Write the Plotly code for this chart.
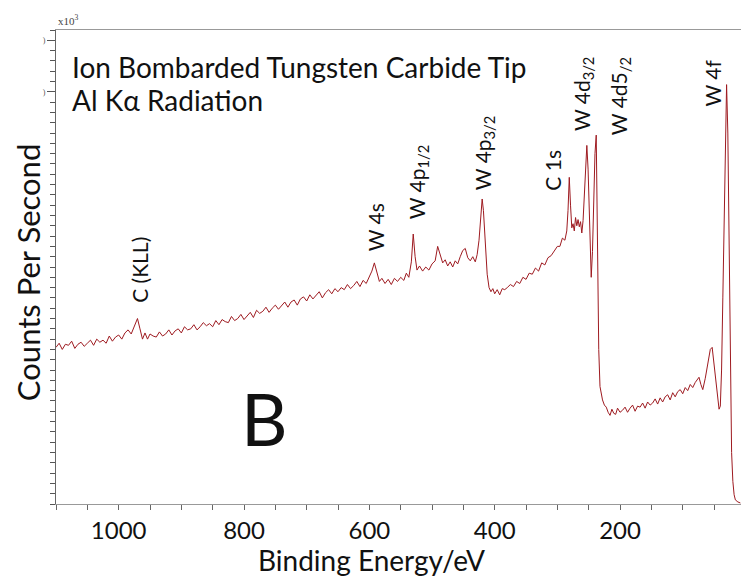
import plotly.graph_objects as go

# Binding energy (eV) and counts per second (x10^3)
energy = [1100, 1095, 1090, 1085, 1080, 1075, 1070, 1065, 1060, 1055, 1050, 1045, 1040, 1035, 1030,
          1025, 1020, 1015, 1010, 1005, 1000, 995, 990, 985, 980, 975, 970, 966, 962, 958, 954, 950,
          945, 940, 935, 930, 925, 920, 915, 910, 905, 900, 895, 890, 885, 880, 875, 870, 865, 860,
          855, 850, 845, 840, 835, 830, 825, 820, 815, 810, 805, 800, 795, 790, 785, 780, 775, 770,
          765, 760, 755, 750, 745, 740, 735, 730, 725, 720, 715, 710, 705, 700, 695, 690, 685, 680,
          675, 670, 665, 660, 655, 650, 645, 640, 635, 630, 625, 620, 615, 610, 605, 600, 596, 592,
          588, 584, 580, 575, 570, 565, 560, 555, 550, 545, 541, 537, 533, 530, 527, 524, 520, 515,
          510, 505, 500, 495, 491, 487, 483, 479, 475, 471, 467, 463, 459, 455, 451, 447, 443, 439,
          435, 431, 428, 425, 422, 420, 418, 415, 412, 409, 406, 403, 400, 396, 392, 388, 384, 380,
          375, 370, 365, 360, 355, 350, 345, 340, 335, 330, 325, 320, 315, 310, 305, 300, 296, 292,
          288, 285, 283, 281, 279, 277, 275, 273, 271, 269, 267, 265, 263, 261, 259, 257, 255, 253,
          251, 249, 247, 246, 244, 242, 240, 238, 237, 236, 234, 232, 230, 228, 225, 222, 219, 216,
          213, 210, 207, 204, 200, 196, 192, 188, 184, 180, 176, 172, 168, 164, 160, 156, 152, 148,
          144, 140, 136, 132, 128, 124, 120, 116, 112, 108, 104, 100, 96, 92, 88, 84, 80, 77, 74,
          71, 68, 64, 60, 56, 53, 50, 47, 44, 42, 40, 38, 36, 34, 32, 30, 28, 26, 24, 22, 20, 18,
          16, 12, 8]
counts = [15.2, 15.6, 15.0, 15.5, 15.4, 15.8, 15.1, 15.5, 15.7, 15.3, 15.6, 15.9, 15.4, 16.0, 15.7,
          15.9, 15.6, 16.3, 15.8, 16.2, 16.4, 16.0, 16.6, 16.9,
          16.5, 17.3, 18.0, 17.0, 16.0, 16.6, 16.0,
          16.5, 16.3, 16.2, 16.7, 16.3, 16.5, 16.9, 16.4, 16.8, 17.0,
          16.6, 17.2, 16.9, 17.0, 17.4, 16.9, 17.2, 17.6, 17.3, 17.5,
          17.2, 17.8, 17.4, 17.9, 17.7, 17.6, 18.2, 17.8, 18.0, 18.4,
          17.9, 18.3, 18.6, 18.1, 18.8, 18.5, 18.7, 19.1, 18.6, 19.0,
          19.3, 18.9, 19.2, 19.6, 19.1, 19.6, 19.8, 19.3, 19.9, 20.1,
          19.7, 20.3, 19.9, 20.2, 20.6, 20.0, 20.5, 20.8, 20.4, 20.9,
          20.6, 21.0, 20.8, 21.3, 20.9, 21.2, 21.6, 21.1, 21.7, 21.4,
          22.0, 22.6, 23.4, 22.5,
          21.6, 21.9, 21.4, 21.8, 21.3, 21.9, 21.6, 22.0, 21.7, 22.4, 22.0, 23.5, 26.2, 24.0, 22.7,
          23.1, 22.6, 23.0, 22.7, 23.3, 23.6, 25.0, 24.2, 23.4, 23.7, 23.1, 23.5, 23.0, 23.6, 23.3,
          24.0, 24.6, 24.8, 23.9, 23.6, 24.0, 23.5, 24.2, 25.6, 28.0, 29.6, 28.5, 25.0, 22.3, 21.0,
          20.6, 20.9,
          20.4, 20.8, 20.3, 20.9, 20.8, 21.0, 21.3, 21.1, 21.6, 21.4, 22.0, 21.8, 22.4, 22.3, 22.9,
          22.6, 23.4, 23.2, 23.9, 24.1, 24.6, 25.0,
          25.0, 25.8, 25.6, 26.5, 28.5, 31.7,
          29.0, 26.8, 27.2, 26.5, 27.8, 27.0, 27.6, 26.9, 27.4, 26.3, 27.5, 30.0, 33.5, 34.8, 32.5,
          27.6, 23.5, 22.0, 24.5, 29.5, 34.0, 35.8, 30.0, 21.1, 15.0, 11.4, 10.5, 10.1, 9.6, 9.4,
          8.9, 8.6, 9.2, 8.8, 8.7, 9.3, 8.9, 9.1, 9.4, 8.9, 9.3, 9.6, 9.0, 9.5, 9.4, 9.8, 9.3, 9.9,
          9.6, 9.8, 10.2, 9.7, 10.3, 9.9, 10.4, 10.6, 10.1, 10.8, 10.4, 10.9, 11.1, 10.7, 11.3,
          11.0, 11.6, 11.3, 11.8,
          12.1, 12.3, 11.6, 11.1, 12.2, 13.8, 15.0, 15.2, 13.5, 12.0, 10.2,
          9.2, 9.5, 13.0, 20.0, 28.0, 35.0, 40.7, 36.0, 25.0, 12.0, 5.0, 2.2, 0.9, 0.4, 0.2, 0.1]

# Peak labels: text, energy position, count level of the label's lower end
peak_labels = ["C (KLL)", "W 4s", "W 4p<sub>1/2</sub>", "W 4p<sub>3/2</sub>", "C 1s",
               "W 4d<sub>3/2</sub>", "W 4d5<sub>/2</sub>", "W 4f"]
peak_x = [968, 590, 523, 418, 308, 259, 200, 52]
peak_y = [19.3, 24.3, 27.4, 30.3, 30.2, 36.0, 35.6, 38.4]

x_tickvals = [1000, 800, 600, 400, 200]
x_ticktext = ["1000", "800", "600", "400", "200"]

FONT = "Lato, Carlito, 'Open Sans', sans-serif"

fig = go.Figure()
fig.add_trace(go.Scatter(x=energy, y=counts, mode="lines",
                         line=dict(color="#9E1A20", width=1), hoverinfo="skip"))

annotations = []
for t, xv, yv in zip(peak_labels, peak_x, peak_y):
    annotations.append(dict(x=xv, y=yv, xref="x", yref="y", text=t, showarrow=False,
                            textangle=-90, xanchor="center", yanchor="bottom",
                            font=dict(family=FONT, size=21, color="#111")))

annotations += [
    dict(x=0.0204, y=0.922, xref="paper", yref="paper", text="Ion Bombarded Tungsten Carbide Tip",
         showarrow=False, xanchor="left", yanchor="middle", font=dict(family=FONT, size=28, color="#111")),
    dict(x=0.0204, y=0.852, xref="paper", yref="paper", text="Al Kα Radiation",
         showarrow=False, xanchor="left", yanchor="middle", font=dict(family=FONT, size=28, color="#111")),
    dict(x=0.305, y=0.181, xref="paper", yref="paper", text="B",
         showarrow=False, xanchor="center", yanchor="middle", font=dict(family=FONT, size=72, color="#111")),
    dict(x=-0.041, y=0.489, xref="paper", yref="paper", text="Counts Per Second", textangle=-90,
         showarrow=False, xanchor="center", yanchor="middle", font=dict(family=FONT, size=31, color="#111")),
    dict(x=0.461, y=-0.1181, xref="paper", yref="paper", text="Binding Energy/eV",
         showarrow=False, xanchor="center", yanchor="middle", font=dict(family=FONT, size=28, color="#111")),
    dict(x=0.0, y=1.0, xref="paper", yref="paper", text="x10<sup>3</sup>", yshift=1,
         showarrow=False, xanchor="left", yanchor="bottom",
         font=dict(family="'Liberation Serif', serif", size=11, color="#444")),
]

fig.update_layout(
    width=741, height=579,
    margin=dict(l=56, r=0, t=30, b=75),
    paper_bgcolor="white", plot_bgcolor="white",
    showlegend=False,
    annotations=annotations,
    xaxis=dict(range=[1100, 7], tickmode="array", tickvals=x_tickvals, ticktext=x_ticktext,
               ticks="outside", ticklen=5, tickcolor="#666", showgrid=False, zeroline=False,
               showline=True, linecolor="#999", linewidth=1, mirror=True,
               tickfont=dict(family=FONT, size=24, color="#111"),
               minor=dict(dtick=50, tick0=0, ticks="outside", ticklen=5, tickcolor="#666", showgrid=False)),
    yaxis=dict(range=[0, 46], tickmode="array", tickvals=[40, 45], ticktext=[")", ")"],
               ticks="outside", ticklen=8, tickcolor="#555", showgrid=False, zeroline=False,
               showline=True, linecolor="#666", linewidth=1,
               tickfont=dict(family="'Liberation Serif', serif", size=8, color="#555"),
               minor=dict(dtick=1, tick0=0, ticks="outside", ticklen=5, tickcolor="#555", showgrid=False)),
)

fig.write_html("out.html", config={"displayModeBar": False},
               post_script="document.body.style.margin='0';document.body.style.overflow='hidden';")
